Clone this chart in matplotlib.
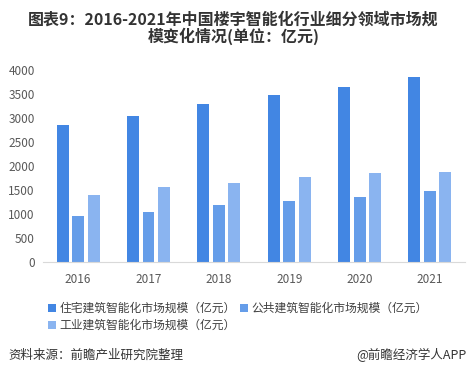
import matplotlib.pyplot as plt
import numpy as np

plt.rcParams['font.family'] = ['Noto Sans CJK SC', 'DejaVu Sans']

# Data
years = ['2016', '2017', '2018', '2019', '2020', '2021']
residential = [2854, 3042, 3292, 3479, 3646, 3854]
public = [958, 1042, 1188, 1271, 1354, 1479]
industrial = [1396, 1563, 1646, 1771, 1854, 1875]
labels = ['住宅建筑智能化市场规模（亿元）', '公共建筑智能化市场规模（亿元）',
          '工业建筑智能化市场规模（亿元）']
colors = ['#4286E3', '#659DE9', '#8AB4F0']

fig = plt.figure(figsize=(4.67, 3.77), dpi=100)
ax = fig.add_axes([0.092, 0.305, 0.904, 0.509])

x = np.arange(len(years))
w = 0.17
off = 0.22
b1 = ax.bar(x - off, residential, w, color=colors[0], label=labels[0])
b2 = ax.bar(x, public, w, color=colors[1], label=labels[1])
b3 = ax.bar(x + off, industrial, w, color=colors[2], label=labels[2])

ax.set_xlim(-0.5, 5.5)
ax.set_ylim(0, 4000)
ax.set_yticks(range(0, 4001, 500))
ax.set_xticks(x)
ax.set_xticklabels(years)
ax.tick_params(axis='both', length=0, labelsize=8.5, colors='#595959')
ax.tick_params(axis='x', pad=8)
ax.tick_params(axis='y', pad=6)
for s in ['top', 'right', 'left']:
    ax.spines[s].set_visible(False)
ax.spines['bottom'].set_color('#d9d9d9')

# Title
fig.text(0.5, 0.925, '图表9：2016-2021年中国楼宇智能化行业细分领域市场规\n模变化情况(单位：亿元)',
         ha='center', va='center', fontsize=11.5, fontweight='bold', color='#333333',
         linespacing=1.05)

# Legend (column-wise fill, so order gives rows: b1 b2 / b3)
fig.legend(handles=[b1, b3, b2], loc='upper left', bbox_to_anchor=(0.09, 0.215),
           ncol=2, frameon=False, fontsize=8.5, handlelength=0.7, handleheight=0.7,
           handletextpad=0.3, columnspacing=0.3, labelspacing=0.35, borderpad=0,
           labelcolor='#404040')

# Footer
fig.text(0.017, 0.058, '资料来源：前瞻产业研究院整理', ha='left', va='center',
         fontsize=9, color='#333333')
fig.text(0.998, 0.058, '@前瞻经济学人APP', ha='right', va='center',
         fontsize=9, color='#333333')

fig.savefig('out.png', dpi=100)
